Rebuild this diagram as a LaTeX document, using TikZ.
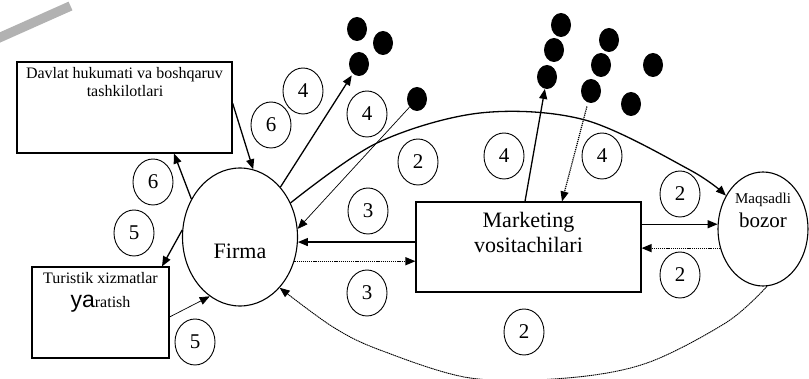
\documentclass[tikz,border=0pt]{standalone}
\usepackage{fontspec}
\setmainfont{Liberation Serif}
\newfontfamily\arialish{Liberation Sans}
\usetikzlibrary{shapes.geometric,arrows.meta}

\newcommand{\fsz}[1]{\fontsize{#1}{#1}\selectfont}

\tikzset{
  box/.style={draw, line width=1.1pt, inner sep=0pt},
  bigell/.style={draw, ellipse, line width=1.1pt, inner sep=0pt},
  num/.style={draw, ellipse, line width=0.9pt, minimum width=40pt,
              minimum height=46pt, inner sep=0pt, font=\fsz{21}},
  blob/.style={ellipse, fill=black, minimum width=20pt,
               minimum height=24pt, inner sep=0pt},
  lbl/.style={anchor=base, inner sep=0pt},
  arr/.style={-{Triangle[length=10pt,width=8pt]}, line width=1.3pt},
  dotarr/.style={-{Triangle[length=10pt,width=8pt]}, line width=1.2pt,
                 dash pattern=on 1.2pt off 0.9pt},
  thinarr/.style={-{Triangle[length=10pt,width=8pt]}, line width=0.7pt},
  thindot/.style={-{Triangle[length=10pt,width=8pt]}, line width=0.9pt,
                  dash pattern=on 1.4pt off 0.6pt}
}

\begin{document}
\begin{tikzpicture}[x=1pt,y=-1pt]
\useasboundingbox (0,0) rectangle (809,379);

% grey stroke in the top left corner
\draw[line width=9.5pt, black!30] (-8,41) -- (70.5,6);

% main blocks
\node[box, minimum width=215pt, minimum height=91pt] (gov) at (124.5,107.5) {};
\node[box, minimum width=137pt, minimum height=91pt] (tour) at (100.5,312.5) {};
\node[box, minimum width=225pt, minimum height=90pt] (mkt) at (528.5,247) {};
\node[bigell, minimum width=115pt, minimum height=138pt] (firma) at (240,237) {};
\node[bigell, minimum width=90pt, minimum height=114pt] (mqs) at (763,229) {};

% block texts
\node[lbl, font=\fsz{16}] (govA) at (124.5,79) {Davlat hukumati va boshqaruv};
\node[lbl, font=\fsz{16}] (govB) at (125,97) {tashkilotlari};
\node[lbl, font=\fsz{16}] (tourA) at (100.5,284) {Turistik xizmatlar};
\node[lbl, font=\fsz{16}] (tourB) at (100.5,308) {{\arialish\fsz{23}ya}ratish};
\node[lbl, font=\fsz{22}] (firmaT) at (240,259) {Firma};
\node[lbl, font=\fsz{22}] (mktA) at (528.5,228) {Marketing};
\node[lbl, font=\fsz{22}] (mktB) at (528.5,253) {vositachilari};
\node[lbl, font=\fsz{15}] (mqsA) at (763,204) {Maqsadli};
\node[lbl, font=\fsz{21}] (mqsB) at (763,228) {bozor};

% numbered markers
\node[num] (n4a) at (303,91) {4};
\node[num] (n6a) at (271,125) {6};
\node[num] (n4b) at (367,114) {4};
\node[num] (n2a) at (418,162) {2};
\node[num] (n4c) at (504,156) {4};
\node[num] (n4d) at (602,156) {4};
\node[num] (n2b) at (680,194) {2};
\node[num] (n2c) at (680,275) {2};
\node[num] (n6b) at (153,182) {6};
\node[num] (n5a) at (134,233) {5};
\node[num] (n5b) at (195,342) {5};
\node[num] (n3a) at (368,211) {3};
\node[num] (n3b) at (367,293) {3};
\node[num] (n2d) at (524,332) {2};

% black dots
\node[blob] (d1) at (357,29) {};
\node[blob] (d2) at (383,43) {};
\node[blob] (d3) at (359,64) {};
\node[blob] (d4) at (417,99) {};
\node[blob] (d5) at (561,25) {};
\node[blob] (d6) at (554,50) {};
\node[blob] (d7) at (547,77) {};
\node[blob] (d8) at (609,40) {};
\node[blob] (d9) at (601,65) {};
\node[blob] (d10) at (591,91) {};
\node[blob] (d11) at (653,65) {};
\node[blob] (d12) at (631,104) {};

% links with the state and the service producers
\draw[arr] ([yshift=4.5pt]gov.east) -- (firma.79);
\draw[arr] (firma.142) -- ([xshift=49.5pt]gov.south);
\draw[arr] (firma.173) -- ([xshift=61.5pt]tour.north);
\draw[thinarr] ([yshift=-4.5pt]tour.east) -- (firma.243);

% links with the outer groups
\draw[arr, shorten >=2pt] (firma.51) -- (d3);
\draw[thinarr] (d4) -- (firma.8);
\draw[arr] ([xshift=-3.5pt]mkt.north) -- (d7);
\draw[dotarr, shorten <=4pt] (d10) -- ([xshift=33.5pt]mkt.north);

% firm and intermediaries
\draw[arr] (firma.-5 -| mkt.west) -- (firma.-5);
\draw[dotarr] (firma.-24) -- (firma.-24 -| mkt.west);

% intermediaries and target market
\draw[arr] (mqs.174 -| mkt.east) -- (mqs.174);
\draw[dotarr] (mqs.204) -- (mqs.204 -| mkt.east);

% direct link from the firm to the market
\draw[arr] plot[smooth, tension=0.55] coordinates
  {(firma.34) (377,143) (480,113) (585,120) (690,170) (mqs.138)};

% feedback from the market to the firm
\draw[thindot] plot[smooth, tension=0.55] coordinates
  {(mqs.-86) (727,322) (647,363) (567,378) (470,378) (380,350) (333,327) (firma.-52)};
\end{tikzpicture}
\end{document}
